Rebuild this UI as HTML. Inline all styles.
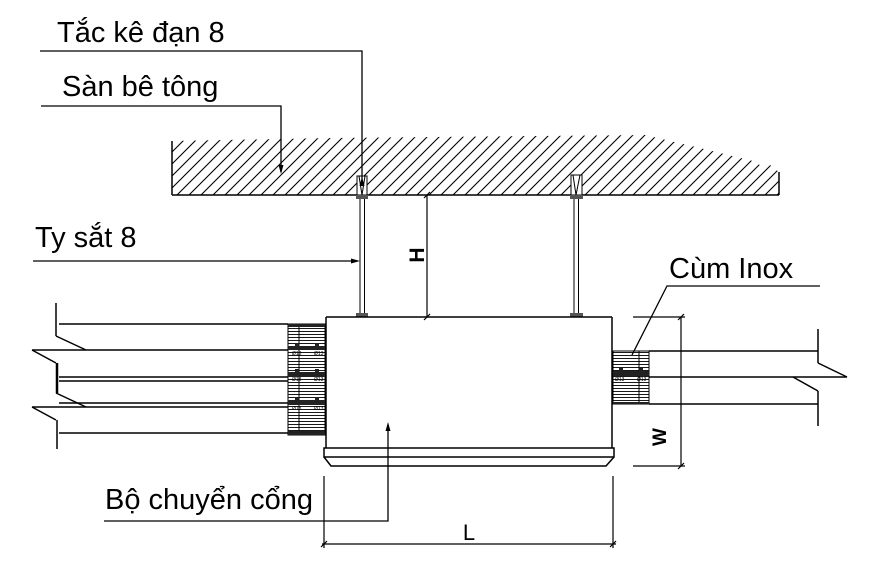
<!DOCTYPE html>
<html><head><meta charset="utf-8"><style>
html,body{margin:0;padding:0;background:#fff;}
svg{display:block;}
text{font-family:"Liberation Sans",Arial,sans-serif;fill:#000;}
</style></head><body>
<svg width="880" height="570" viewBox="0 0 880 570" xmlns="http://www.w3.org/2000/svg">
<defs>
<pattern id="h" width="12" height="12" patternUnits="userSpaceOnUse">
<path d="M0,12 L12,0 M-3,3 L3,-3 M9,15 L15,9" stroke="#000" stroke-width="1.1"/>
</pattern>
<pattern id="cl" width="4" height="3" patternUnits="userSpaceOnUse">
<line x1="0" y1="1.5" x2="4" y2="1.5" stroke="#000" stroke-width="0.9"/>
</pattern>
</defs>

<!-- slab -->
<polygon points="172,141 330,138 645,135 700,148 757,162 762,168 770,165 779,172 779,195 172,195" fill="url(#h)"/>
<g stroke="#000" stroke-width="1.5" fill="none">
<line x1="172" y1="195" x2="779" y2="195"/>
<line x1="172" y1="141" x2="172" y2="195"/>
<line x1="779" y1="172" x2="779" y2="195"/>
</g>

<!-- anchors & rods -->
<g stroke="#000" stroke-width="1" fill="#fff">
<rect x="357" y="176" width="10" height="19"/>
<path d="M359,176 L362,195 L365,176" fill="none"/>
<rect x="571" y="175" width="11" height="20"/>
<path d="M573,175 L576,195 L580,175" fill="none"/>
</g>
<g fill="#555">
<rect x="356" y="195" width="12" height="4"/>
<rect x="570" y="195" width="13" height="4"/>
<rect x="356" y="313" width="12" height="4"/>
<rect x="570" y="313" width="13" height="4"/>
</g>
<g stroke="#000" stroke-width="1">
<line x1="360" y1="199" x2="360" y2="313"/>
<line x1="364.5" y1="199" x2="364.5" y2="313"/>
<line x1="574" y1="199" x2="574" y2="313"/>
<line x1="578.5" y1="199" x2="578.5" y2="313"/>
</g>

<!-- box -->
<g stroke="#000" stroke-width="1.5" fill="none">
<line x1="326" y1="317" x2="612" y2="317"/>
<line x1="326" y1="317" x2="326" y2="448"/>
<line x1="612" y1="317" x2="612" y2="448"/>
<rect x="324" y="448" width="290" height="9"/>
<path d="M324,457 L331,466 L606,466 L614,457"/>
</g>

<!-- left pipes -->
<g stroke="#000" stroke-width="1.5" fill="none">
<line x1="59" y1="324" x2="288" y2="324"/>
<line x1="32" y1="350" x2="288" y2="350"/>
<line x1="59" y1="377" x2="288" y2="377"/>
<line x1="59" y1="381" x2="288" y2="381"/>
<line x1="59" y1="403" x2="288" y2="403"/>
<line x1="32" y1="407" x2="288" y2="407"/>
<line x1="59" y1="433" x2="288" y2="433"/>
<line x1="56" y1="303" x2="56" y2="336"/>
<line x1="56" y1="336" x2="86" y2="350"/>
<line x1="32" y1="350" x2="56" y2="363"/>
<line x1="57" y1="363" x2="57" y2="393" stroke-width="2.5"/>
<line x1="56" y1="393" x2="86" y2="407"/>
<line x1="32" y1="407" x2="56" y2="420"/>
<line x1="57" y1="420" x2="57" y2="449"/>
</g>

<!-- left collar -->
<rect x="288" y="324" width="37" height="111" fill="url(#cl)" stroke="#000" stroke-width="1"/>
<line x1="299" y1="324" x2="299" y2="435" stroke="#000" stroke-width="1"/>
<g fill="#222">
<rect x="288" y="324" width="37" height="3"/>
<rect x="288" y="346" width="37" height="4"/>
<rect x="288" y="372" width="37" height="5"/>
<rect x="288" y="400" width="37" height="5"/>
<rect x="288" y="431" width="37" height="4"/>
<rect x="295" y="343" width="4" height="3"/><rect x="315" y="343" width="4" height="3"/>
<rect x="295" y="369" width="4" height="3"/><rect x="315" y="369" width="4" height="3"/>
<rect x="295" y="397" width="4" height="3"/><rect x="315" y="397" width="4" height="3"/>
</g>
<g font-size="5" fill="#000">
<text x="292" y="355">Ø13</text><text x="314" y="355">Ø13</text>
<text x="292" y="381">Ø13</text><text x="314" y="381">Ø13</text>
<text x="292" y="410">Ø13</text><text x="314" y="410">Ø13</text>
</g>

<!-- right collar -->
<rect x="613" y="351" width="36" height="53" fill="url(#cl)" stroke="#000" stroke-width="1"/>
<line x1="639" y1="351" x2="639" y2="404" stroke="#000" stroke-width="1"/>
<g fill="#222">
<rect x="613" y="371" width="36" height="5"/>
<rect x="613" y="402" width="36" height="2"/>
<rect x="619" y="368" width="4" height="3"/><rect x="639" y="368" width="4" height="3"/>
</g>
<g font-size="5"><text x="615" y="381">Ø13</text><text x="637" y="381">Ø13</text></g>

<!-- right pipes -->
<g stroke="#000" stroke-width="1.5" fill="none">
<line x1="649" y1="351" x2="818" y2="351"/>
<line x1="649" y1="377" x2="847" y2="377"/>
<line x1="649" y1="404" x2="818" y2="404"/>
<line x1="818" y1="329" x2="818" y2="363"/>
<line x1="818" y1="363" x2="847" y2="377"/>
<line x1="793" y1="377" x2="818" y2="391"/>
<line x1="818" y1="391" x2="818" y2="426"/>
</g>

<!-- dimensions -->
<g stroke="#000" stroke-width="1.2" fill="none">
<line x1="427" y1="195" x2="427" y2="317"/>
<line x1="424" y1="198" x2="430" y2="192"/>
<line x1="424" y1="320" x2="430" y2="314"/>
<line x1="681" y1="317" x2="681" y2="466"/>
<line x1="633" y1="317" x2="685" y2="317"/>
<line x1="633" y1="466" x2="685" y2="466"/>
<line x1="678" y1="320" x2="684" y2="314"/>
<line x1="678" y1="469" x2="684" y2="463"/>
<line x1="322" y1="544" x2="616" y2="544"/>
<line x1="324" y1="476" x2="324" y2="548"/>
<line x1="613" y1="476" x2="613" y2="548"/>
<line x1="321" y1="547" x2="327" y2="541"/>
<line x1="610" y1="547" x2="616" y2="541"/>
</g>
<text transform="translate(424,255) rotate(-90)" text-anchor="middle" font-size="21" font-weight="bold">H</text>
<text transform="translate(666,437) rotate(-90)" text-anchor="middle" font-size="19" font-weight="bold">W</text>
<text x="469" y="540" text-anchor="middle" font-size="22">L</text>

<!-- leaders -->
<g stroke="#000" stroke-width="1.3" fill="none">
<polyline points="40,51 362,51 362,183"/>
<polyline points="41,106 281,106 281,172"/>
<line x1="33" y1="261" x2="356" y2="261"/>
<polyline points="104,521 388,521 388,428"/>
<polyline points="820,286 667,286 632,355"/>
</g>
<g fill="#000">
<polygon points="362,177 359.5,186 364.5,186"/>
<polygon points="281,174 278.5,165 283.5,165"/>
<polygon points="360,261 351,258.5 351,263.5"/>
<polygon points="388,422 385.5,431 390.5,431"/>
</g>

<!-- labels -->
<g font-size="29">
<text x="57" y="42">Tắc kê đạn 8</text>
<text x="62" y="96">Sàn bê tông</text>
<text x="35" y="247">Ty sắt 8</text>
<text x="669" y="278">Cùm Inox</text>
<text x="105" y="509">Bộ chuyển cổng</text>
</g>
</svg>
</body></html>
